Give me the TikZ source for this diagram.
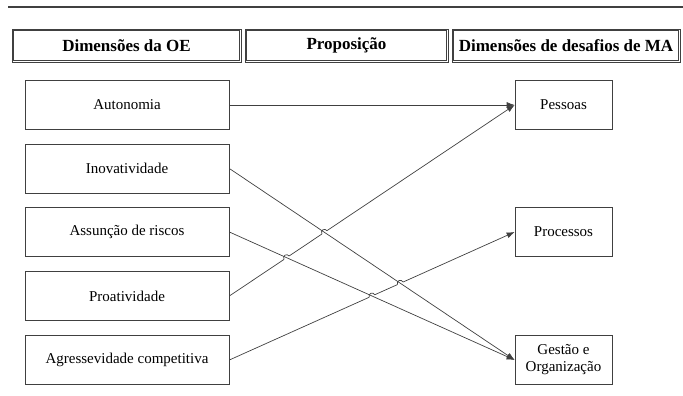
\documentclass[tikz,border=0pt]{standalone}
\usepackage{fontspec}
\setmainfont{Liberation Serif}
\usetikzlibrary{arrows.meta,intersections}
\definecolor{linegray}{HTML}{404040}
\tikzset{
    head/.style={draw=linegray,line width=0.8pt,minimum height=33pt,inner sep=0pt,font=\bfseries\fontsize{17}{20}\selectfont},
    dim/.style={draw=linegray,line width=0.7pt,minimum width=204pt,minimum height=49pt,inner sep=0pt,font=\fontsize{15}{17}\selectfont},
    chal/.style={dim,minimum width=97pt,align=center},
    conn/.style={draw=linegray,line width=0.7pt,-{Latex[length=8pt,width=6pt]}}
}
\newcommand{\hop}[2]{%
    \begin{scope}[shift={(#1)},rotate=#2]
        \fill[white] (-3,-1) rectangle (3,1);
        \draw[linegray,line width=0.7pt] (-3,0) arc (180:0:3);
    \end{scope}}
\begin{document}
\begin{tikzpicture}[x=1pt,y=1pt]
        \useasboundingbox (0,0) rectangle (683,396);
        \draw[linegray,line width=1.6pt] (8,389) -- (683,389);

        \node[head,minimum width=229pt] (hoe) at (126.5,350.5) {Dimensões da OE};
        \node[head,minimum width=203pt] (hprop) at (346.5,350.5) {Proposição};
        \node[head,minimum width=228pt] (hma) at (566,350.5) {Dimensões de desafios de MA};
        \foreach \h in {hoe,hprop,hma}
            \draw[linegray,line width=0.5pt] ([shift={(1.8,-1.8)}]\h.north west) rectangle ([shift={(-1.8,1.8)}]\h.south east);

        \node[dim] (aut) at (127,291) {Autonomia};
        \node[dim] (ino) at (127,227.5) {Inovatividade};
        \node[dim] (ass) at (127,164) {Assunção de riscos};
        \node[dim] (pro) at (127,100) {Proatividade};
        \node[dim] (agr) at (127,36) {Agressevidade competitiva};

        \node[chal] (pes) at (563.5,291) {Pessoas};
        \node[chal] (prc) at (563.5,164) {Processos};
        \node[chal] (ges) at (563.5,36) {Gestão e\\Organização};

        \draw[conn] (aut.east) -- (pes.west);
        \draw[conn,name path=lpro] (pro.east) -- (pes.west);
        \draw[conn,name path=lagr] (agr.east) -- (prc.west);
        \path[name path=lino] (ino.east) -- (ges.west);
        \path[name path=lass] (ass.east) -- (ges.west);

        \path[name intersections={of=lpro and lino,by=x1}];
        \path[name intersections={of=lpro and lass,by=x2}];
        \path[name intersections={of=lagr and lino,by=x3}];
        \path[name intersections={of=lagr and lass,by=x4}];
        \hop{x1}{33.73}
        \hop{x2}{33.73}
        \hop{x3}{24.11}
        \hop{x4}{24.11}

        \draw[conn] (ino.east) -- (ges.west);
        \draw[conn] (ass.east) -- (ges.west);
    \end{tikzpicture}
\end{document}
